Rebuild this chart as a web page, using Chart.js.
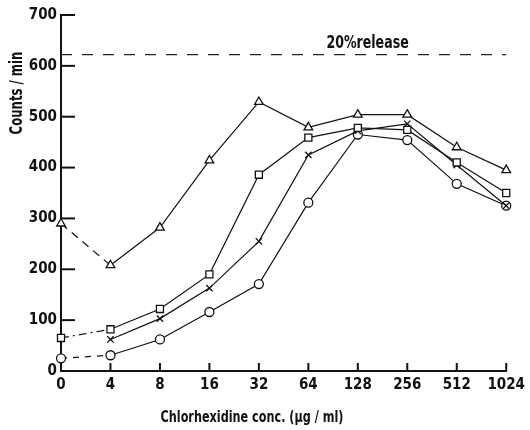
<!DOCTYPE html>
<html lang="en">
<head>
    <meta charset="UTF-8" />
    <title>Counts / min vs Chlorhexidine conc.</title>
    <script src="https://cdn.jsdelivr.net/npm/chart.js@4.4.1/dist/chart.umd.min.js"></script>
    <style>
        html, body { margin: 0; padding: 0; background: #fff; }
        #wrap { width: 530px; height: 430px; }
    </style>
</head>
<body>
    <div id="wrap"><canvas id="myChart" width="530" height="430"></canvas></div>

    <script>
        // concentrations (µg/ml), evenly spaced on a log2 style axis
        const concs = ['0', '4', '8', '16', '32', '64', '128', '256', '512', '1024'];
        const yTicks = [0, 100, 200, 300, 400, 500, 600, 700];

        // counts / min for each series
        const triangles = [290, 208, 282, 414, 529, 479, 504, 504, 440, 395];
        const squares   = [65, 82, 122, 190, 386, 459, 478, 474, 410, 350];
        const crosses   = [null, 62, 103, 163, 255, 425, 472, 486, 405, 325];
        const circles   = [25, 31, 62, 116, 171, 331, 465, 454, 368, 325];

        // 20% release level
        const releaseLevel = 622;
        const releaseLabel = '20%release';

        const FONT = "'Liberation Sans Narrow', 'DejaVu Sans Condensed', sans-serif";

        // first segment dashed, the rest solid
        function firstDash(dash) {
            return ctx => ctx.p0DataIndex === 0 ? dash : [];
        }

        function series(data, style, dash, r) {
            return {
                data: data,
                pointStyle: style,
                pointRadius: r || 4,
                pointBorderWidth: 1.3,
                pointBackgroundColor: '#fff',
                pointBorderColor: '#111',
                borderColor: '#111',
                borderWidth: 1.2,
                fill: false,
                tension: 0,
                segment: { borderDash: dash ? firstDash(dash) : undefined }
            };
        }

        // tall, narrow text like the typeset original
        function tallText(c, text, x, y, size, rot) {
            c.save();
            c.translate(x, y);
            if (rot) c.rotate(rot);
            c.scale(1, 1.3);
            c.font = 'bold ' + size + 'px ' + FONT;
            c.fillText(text, 0, 0);
            c.restore();
        }

        // inward ticks + free text labels
        const extras = {
            id: 'extras',
            afterDraw(chart) {
                const c = chart.ctx;
                const xs = chart.scales.x, ys = chart.scales.y;
                const a = chart.chartArea;
                c.save();
                c.strokeStyle = '#111';
                c.lineWidth = 2;
                yTicks.forEach(v => {
                    if (v === 0) return;
                    const py = ys.getPixelForValue(v);
                    c.beginPath();
                    c.moveTo(a.left, py);
                    c.lineTo(a.left + 14, py);
                    c.stroke();
                });
                concs.forEach((lab, i) => {
                    if (i === 0) return;
                    const px = xs.getPixelForValue(i);
                    c.beginPath();
                    c.moveTo(px, a.bottom);
                    c.lineTo(px, a.bottom - 8);
                    c.stroke();
                });

                c.fillStyle = '#111';
                c.textAlign = 'center';
                c.textBaseline = 'middle';
                // release label above the dashed line
                const ry = ys.getPixelForValue(releaseLevel);
                tallText(c, releaseLabel, (xs.getPixelForValue(6) + xs.getPixelForValue(7)) / 2 - 15, ry - 11, 14);

                // axis titles
                tallText(c, 'Chlorhexidine conc. (µg / ml)', a.left + 191, a.bottom + 47, 12.5);
                tallText(c, 'Counts / min', 18, a.top + 78, 13, -Math.PI / 2);
                c.restore();
            }
        };

        const ctx = document.getElementById('myChart').getContext('2d');
        const myChart = new Chart(ctx, {
            type: 'line',
            data: {
                labels: concs,
                datasets: [
                    {
                        data: concs.map(() => releaseLevel),
                        borderColor: '#222',
                        borderWidth: 1.3,
                        borderDash: [11, 10],
                        pointRadius: 0,
                        fill: false
                    },
                    series(triangles, 'triangle', [8, 6], 5),
                    series(squares, 'rect', [8, 4, 2, 4], 5),
                    series(crosses, 'crossRot', null, 4.5),
                    series(circles, 'circle', [6, 6], 4.5)
                ]
            },
            options: {
                responsive: false,
                animation: false,
                plugins: {
                    legend: { display: false },
                    tooltip: { enabled: false }
                },
                layout: { padding: { left: 0, right: 21, top: 15, bottom: 0 } },
                scales: {
                    x: {
                        type: 'category',
                        offset: false,
                        grid: { drawOnChartArea: false, drawTicks: false },
                        border: { color: '#111', width: 2 },
                        ticks: {
                            color: '#111',
                            padding: 5,
                            maxRotation: 0,
                            autoSkip: false,
                            font: { family: FONT, size: 15, weight: 'bold' }
                        },
                        afterFit: s => { s.height = 59; }
                    },
                    y: {
                        min: 0,
                        max: 700,
                        grid: { drawOnChartArea: false, drawTicks: false },
                        border: { color: '#111', width: 2 },
                        ticks: {
                            stepSize: 100,
                            color: '#111',
                            padding: 4,
                            font: { family: FONT, size: 15, weight: 'bold' }
                        },
                        afterFit: s => { s.width = 61; }
                    }
                }
            },
            plugins: [extras]
        });
    </script>
</body>
</html>
